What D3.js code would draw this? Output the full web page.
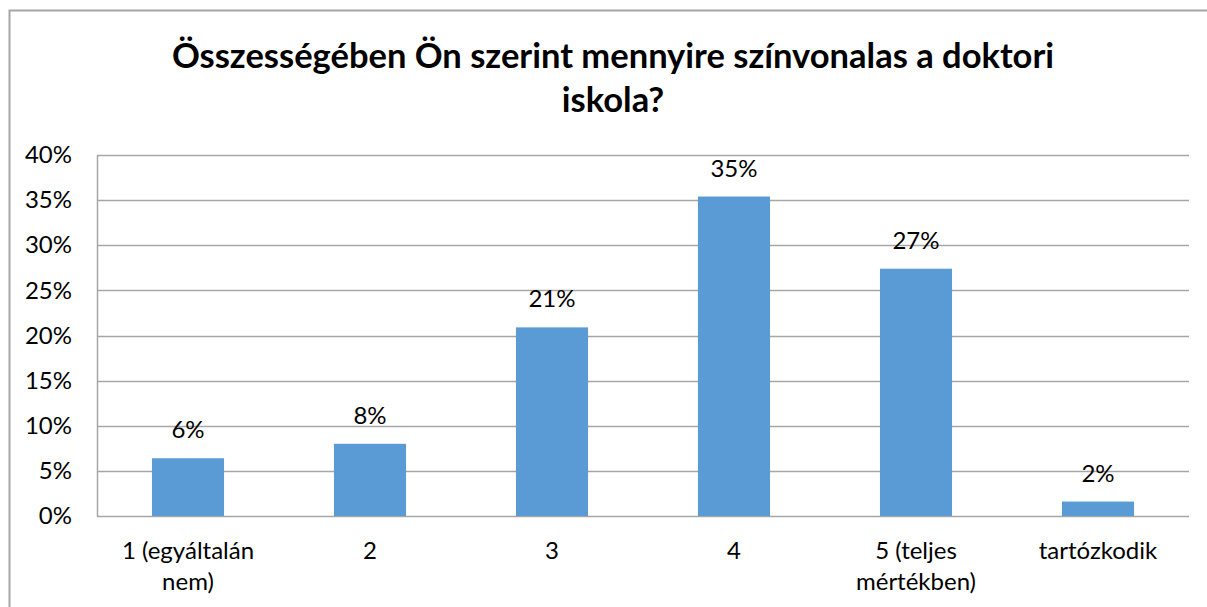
<!DOCTYPE html>
<html>
<head>
<meta charset="utf-8">
<script src="https://cdn.jsdelivr.net/npm/d3@7"></script>
<style>
  html, body { margin: 0; padding: 0; background: #fff; }
  svg { display: block; }
  text { font-family: Lato, "Open Sans", sans-serif; fill: #000; }
</style>
</head>
<body>
<svg id="chart" width="1207" height="607"></svg>
<script>
const categories = [["1 (egyáltalán", "nem)"], ["2"], ["3"], ["4"], ["5 (teljes", "mértékben)"], ["tartózkodik"]];
const values = [0.064, 0.080, 0.209, 0.354, 0.274, 0.016];
const tickValues = [0, 0.05, 0.10, 0.15, 0.20, 0.25, 0.30, 0.35, 0.40];
const titleLines = ["Összességében Ön szerint mennyire színvonalas a doktori", "iskola?"];

const svg = d3.select("#chart");
const W = 1207, H = 607;
const plot = { left: 97, right: 1189, top: 155, bottom: 516 };

// chart frame
svg.append("path")
  .attr("d", `M9.5,${H} L9.5,10.5 L${W},10.5`)
  .attr("fill", "none").attr("stroke", "#a6a6a6").attr("stroke-width", 2);

// title
const title = svg.append("text")
  .attr("text-anchor", "middle")
  .style("font-weight", "bold").style("font-size", "34.5px");
title.selectAll("tspan").data(titleLines).join("tspan")
  .attr("x", 613).attr("y", (d, i) => 68 + i * 44).text(d => d);

const idx = categories.map((d, i) => i);
const x = d3.scaleBand().domain(idx).range([plot.left, plot.right])
  .paddingInner(0.604).paddingOuter(0.302);
const y = d3.scaleLinear().domain([0, 0.40]).range([plot.bottom, plot.top]);

// gridlines
svg.append("g").selectAll("line").data(tickValues).join("line")
  .attr("x1", plot.left).attr("x2", plot.right)
  .attr("y1", d => Math.round(y(d)) + 0.5).attr("y2", d => Math.round(y(d)) + 0.5)
  .attr("stroke", "#a6a6a6").attr("stroke-width", 1.5);

// y axis
const yAxis = svg.append("g").attr("transform", `translate(${plot.left},0)`)
  .call(d3.axisLeft(y).tickValues(tickValues).tickFormat(d3.format(".0%")).tickSize(0).tickPadding(25));
yAxis.select(".domain").attr("stroke", "#a6a6a6").attr("stroke-width", 1.5);
yAxis.selectAll("text").style("font-size", "24px").style("font-family", "Lato, sans-serif").attr("fill", "#000");

// bars
svg.append("g").selectAll("rect").data(values).join("rect")
  .attr("x", (d, i) => x(i)).attr("width", x.bandwidth())
  .attr("y", d => y(d)).attr("height", d => y(0) - y(d))
  .attr("fill", "#5b9bd5");

// data labels
svg.append("g").selectAll("text").data(values).join("text")
  .attr("x", (d, i) => x(i) + x.bandwidth() / 2)
  .attr("y", d => y(d) - 20)
  .attr("text-anchor", "middle").style("font-size", "24px")
  .text(d => d3.format(".0%")(d));

// x labels
const xl = svg.append("g").selectAll("text").data(categories).join("text")
  .attr("text-anchor", "middle").style("font-size", "24px");
xl.each(function(lines, i) {
  d3.select(this).selectAll("tspan").data(lines).join("tspan")
    .attr("x", x(i) + x.bandwidth() / 2)
    .attr("y", (d, j) => 559 + j * 31).text(d => d);
});
</script>
</body>
</html>
